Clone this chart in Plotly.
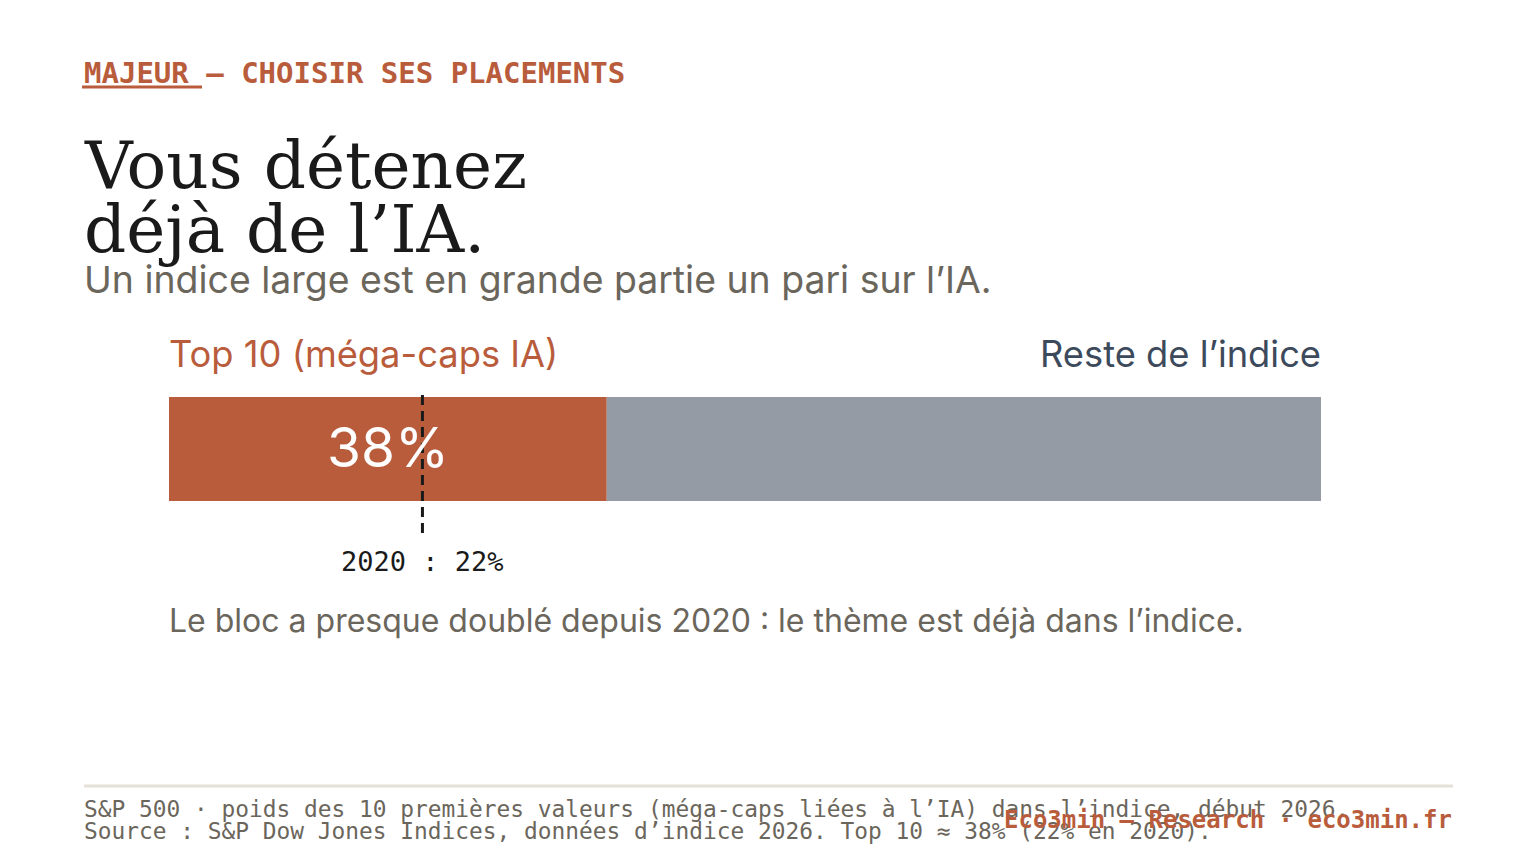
import plotly.graph_objects as go

W, H = 1536, 864
OFF = 8  # page body margin

categories = ["Top 10 (méga-caps IA)", "Reste de l’indice"]
shares = [38, 62]
ref_year = "2020"
ref_share = 22

ORANGE = "#b95c3c"
GRAY_BAR = "#959ba5"
SLATE = "#3d4a5c"
INK = "#1a1a1a"
MUTED = "#6b665c"
RULE = "#e6e1d8"

SERIF = "DejaVu Serif, Liberation Serif, serif"
SANS = "Inter, Roboto, sans-serif"
MONO = "DejaVu Sans Mono, Liberation Mono, monospace"


def px(x):
    return (x - OFF) / W


def py(y):
    return 1 - (y - OFF) / H


fig = go.Figure()
colors = [ORANGE, GRAY_BAR]
base = 0
for cat, val, col in zip(categories, shares, colors):
    fig.add_trace(go.Bar(
        y=[0], x=[val], base=[base], orientation="h",
        marker=dict(color=col, line=dict(width=0)), width=1,
        name=cat, hoverinfo="skip", showlegend=False,
    ))
    base += val

bar_top, bar_bot = 397, 501
fig.update_layout(
    width=W, height=H,
    margin=dict(l=0, r=0, t=0, b=0),
    paper_bgcolor="white", plot_bgcolor="white",
    barmode="overlay",
    xaxis=dict(domain=[px(169), px(1321)], range=[0, sum(shares)],
               visible=False, fixedrange=True),
    yaxis=dict(domain=[py(bar_bot), py(bar_top)], range=[-0.5, 0.5],
               visible=False, fixedrange=True),
    showlegend=False,
)

ann = []


def add(text, x, y, size, color, family, xanchor="left", bold=False, xref="paper"):
    if bold:
        text = "<b>" + text + "</b>"
    ann.append(dict(text=text, x=x, y=py(y), xref=xref, yref="paper",
                    xanchor=xanchor, yanchor="middle", showarrow=False,
                    font=dict(size=size, color=color, family=family)))


add("MAJEUR — CHOISIR SES PLACEMENTS", px(82), 73, 29, ORANGE, MONO, bold=True)
add("Vous détenez", px(82), 166, 66, INK, SERIF)
add("déjà de l’IA.", px(82), 230, 66, INK, SERIF)
add("Un indice large est en grande partie un pari sur l’IA.", px(82), 279, 37.4, MUTED, SANS)

add(categories[0], px(167), 354, 36.3, ORANGE, SANS)
add(categories[1], px(1323), 354, 36.3, SLATE, SANS, xanchor="right")
add(f"{shares[0]}%", shares[0] / 2, 447, 55, "white", SANS, xanchor="center", xref="x")
add(f"{ref_year} : {ref_share}%", ref_share, 561, 27, INK, MONO, xanchor="center", xref="x")
add("Le bloc a presque doublé depuis 2020 : le thème est déjà dans l’indice.",
    px(167), 620, 32, MUTED, SANS)

add("S&P 500 · poids des 10 premières valeurs (méga-caps liées à l’IA) dans l’indice, début 2026.",
    px(82), 809, 22.85, MUTED, MONO)
add("Source : S&P Dow Jones Indices, données d’indice 2026. Top 10 ≈ 38% (22% en 2020).",
    px(82), 831, 22.85, MUTED, MONO)
add("Eco3min — Research · eco3min.fr", px(1454), 820, 24, ORANGE, MONO,
    xanchor="right", bold=True)

fig.update_layout(annotations=ann)

fig.add_shape(type="line", xref="x", yref="paper", x0=ref_share, x1=ref_share,
              y0=py(395), y1=py(535), line=dict(color=INK, width=3, dash="10px,6px"))
fig.add_shape(type="line", xref="paper", yref="paper", x0=px(82), x1=px(202),
              y0=py(87), y1=py(87), line=dict(color=ORANGE, width=3))
fig.add_shape(type="line", xref="paper", yref="paper", x0=px(84), x1=px(1453),
              y0=py(786), y1=py(786), line=dict(color=RULE, width=3))

fig.write_html("out.html", config={"displayModeBar": False})
